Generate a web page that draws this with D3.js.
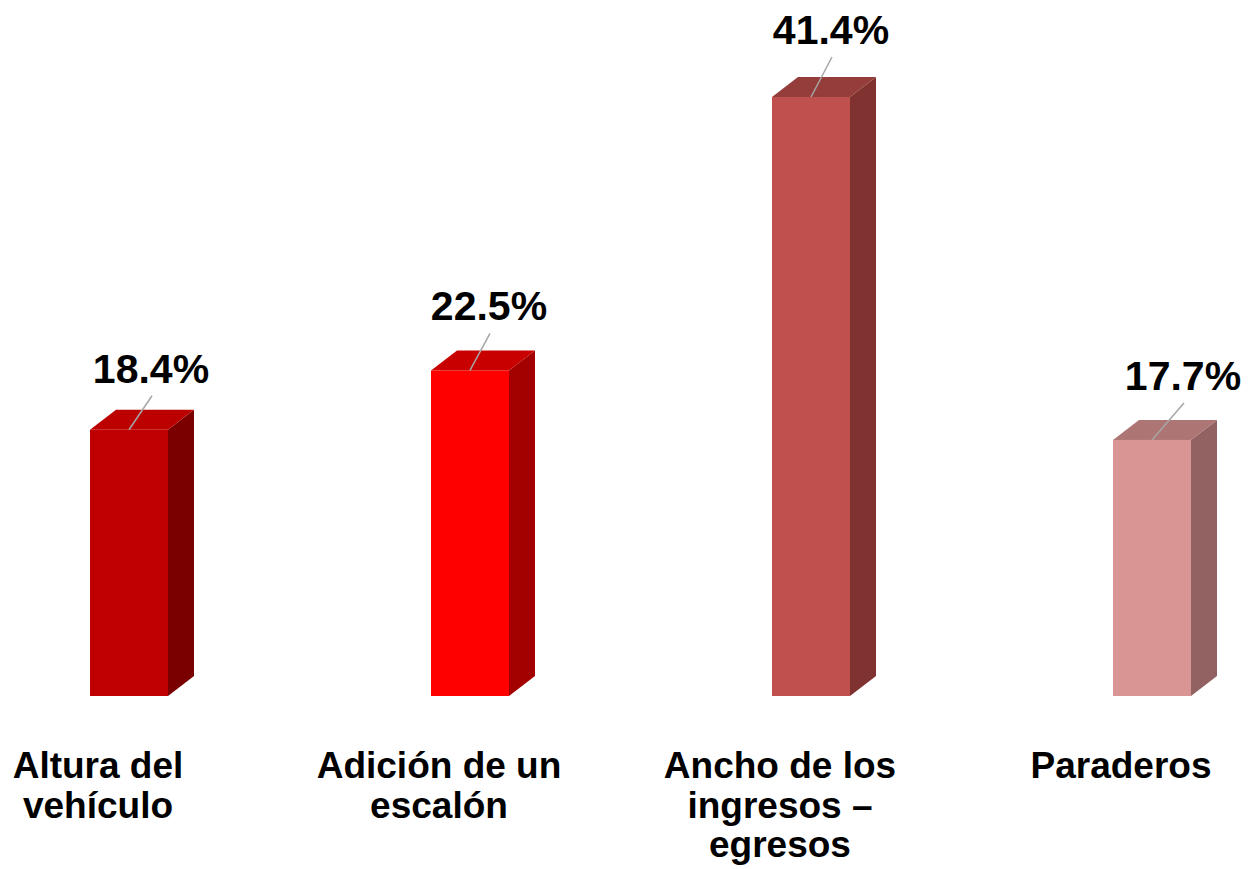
<!DOCTYPE html>
<html>
<head>
<meta charset="utf-8">
<script src="https://cdn.jsdelivr.net/npm/d3@7"></script>
<style>
  html, body { margin: 0; padding: 0; background: #ffffff; }
  svg { display: block; }
  text { font-family: "Liberation Sans", Arial, sans-serif; font-weight: bold; fill: #000; }
</style>
</head>
<body>
<svg id="chart" width="1255" height="869"></svg>
<script>
// ---- data ----
const categories = ["Altura del vehículo", "Adición de un escalón", "Ancho de los ingresos – egresos", "Paraderos"];
const categoryLines = [["Altura del", "vehículo"], ["Adición de un", "escalón"], ["Ancho de los", "ingresos –", "egresos"], ["Paraderos"]];
const values = [18.4, 22.5, 41.4, 17.7];
const valueLabels = ["18.4%", "22.5%", "41.4%", "17.7%"];

// ---- styles ----
const frontColors = ["#C00000", "#FF0000", "#C0504D", "#D99594"];
const topColors   = ["#BC0000", "#C80000", "#953D3B", "#AD7675"];
const sideColors  = ["#7A0000", "#A30000", "#7F3230", "#916261"];
// leader line end offsets (dx, dy) from bar top-centre
const leaderDx = [23, 20, 21, 32];
const leaderDy = [34, 37, 40, 37];

const svg = d3.select("#chart");

const xs = d3.scalePoint().domain(categories).range([129, 1152]);
const y = d3.scaleLinear().domain([0, 41.4]).range([696, 97]);

const depthX = 26, depthY = 20;
const bw = 78;

const g = svg.append("g");

categories.forEach((c, i) => {
  const cx = xs(c);
  const x0 = cx - bw / 2, x1 = cx + bw / 2;
  const yt = y(values[i]), yb = y(0);
  // side face
  g.append("path")
    .attr("d", `M${x1},${yt} L${x1 + depthX},${yt - depthY} L${x1 + depthX},${yb - depthY} L${x1},${yb} Z`)
    .attr("fill", sideColors[i]);
  // top face
  g.append("path")
    .attr("d", `M${x0},${yt} L${x0 + depthX},${yt - depthY} L${x1 + depthX},${yt - depthY} L${x1},${yt} Z`)
    .attr("fill", topColors[i]);
  // front face
  g.append("rect")
    .attr("x", x0).attr("y", yt).attr("width", bw).attr("height", yb - yt)
    .attr("fill", frontColors[i]);
  // leader line
  const lx = cx + leaderDx[i], ly = yt - leaderDy[i];
  g.append("line")
    .attr("x1", cx).attr("y1", yt).attr("x2", lx).attr("y2", ly)
    .attr("stroke", "#A6A6A6").attr("stroke-width", 1.5);
  // value label
  g.append("text")
    .attr("x", lx - 1).attr("y", ly - 13)
    .attr("text-anchor", "middle")
    .attr("font-size", 41)
    .text(valueLabels[i]);
  // category label
  const t = g.append("text")
    .attr("x", cx - 31).attr("y", 778)
    .attr("text-anchor", "middle")
    .attr("font-size", 37);
  categoryLines[i].forEach((ln, j) => {
    t.append("tspan").attr("x", cx - 31).attr("dy", j === 0 ? 0 : 39.5).text(ln);
  });
});
</script>
</body>
</html>
